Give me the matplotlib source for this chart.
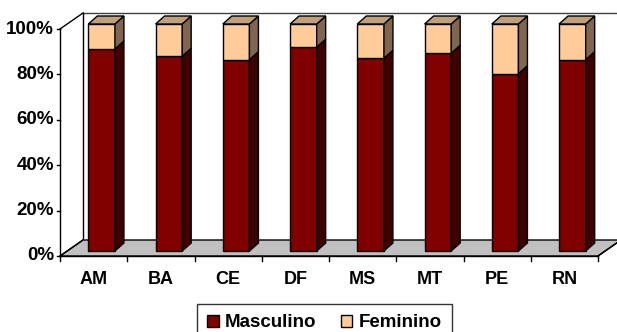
import matplotlib.pyplot as plt
from matplotlib.patches import Polygon, Patch
import numpy as np

categorias = ["AM", "BA", "CE", "DF", "MS", "MT", "PE", "RN"]
masculino = [89.0, 85.8, 84.3, 89.8, 84.9, 87.1, 78.1, 84.3]
feminino = [11.0, 14.2, 15.7, 10.2, 15.1, 12.9, 21.9, 15.7]
yticks = [0, 20, 40, 60, 80, 100]

plt.rcParams["font.family"] = ["Liberation Sans", "DejaVu Sans"]
plt.rcParams["font.weight"] = "bold"

W, H = 617, 332
fig = plt.figure(figsize=(W / 100, H / 100), dpi=100)
ax = fig.add_axes([60 / W, 76 / H, 538 / W, 227 / H])
n = len(categorias)
ax.set_xlim(-0.5, n - 0.5)
ax.set_ylim(0, 100)
ax.axis("off")

# pixel -> data helpers
px_x = n / 538.0
px_y = 100 / 227.0

# depth of the "3d" box
DX, DY = 23 * px_x, 16 * px_y
x0, x1 = -0.5, n - 0.5

# back wall
ax.add_patch(Polygon([(x0 + DX, DY), (x1 + DX, DY), (x1 + DX, 100 + DY), (x0 + DX, 100 + DY)],
                     closed=True, facecolor="white", edgecolor="none", clip_on=False, zorder=0))
ax.plot([x0 + DX, x1 + DX + 1], [100 + DY, 100 + DY], color="#404040", lw=1, clip_on=False, zorder=1)
ax.plot([x0 + DX, x0 + DX], [DY, 100 + DY], color="black", lw=1, clip_on=False, zorder=1)
# left wall top edge
ax.plot([x0, x0 + DX], [100, 100 + DY], color="black", lw=1, clip_on=False, zorder=1)

# floor
ax.add_patch(Polygon([(x0, 0), (x1, 0), (x1 + DX, DY), (x0 + DX, DY)], closed=True,
                     facecolor="#c0c0c0", edgecolor="black", lw=1, clip_on=False, zorder=1))

# bars
pos = np.arange(n)
bw = 26.6 * px_x
ox, oy = 8 * px_x, 5 * px_y
bdx, bdy = 9 * px_x, 8 * px_y
masc = np.array(masculino)
fem = np.array(feminino)

ax.bar(pos + ox, masc, width=bw, bottom=oy, color="#800000", edgecolor="black", lw=1,
       zorder=3, clip_on=False)
ax.bar(pos + ox, fem, width=bw, bottom=oy + masc, color="#ffcc99", edgecolor="black", lw=1,
       zorder=3, clip_on=False)

for i in range(n):
    xr = pos[i] + ox + bw / 2
    xl = pos[i] + ox - bw / 2
    b = oy
    m = oy + masc[i]
    t = oy + masc[i] + fem[i]
    ax.add_patch(Polygon([(xr, b), (xr + bdx, b + bdy), (xr + bdx, m + bdy), (xr, m)], closed=True,
                         facecolor="#400000", edgecolor="black", lw=1, clip_on=False, zorder=3))
    ax.add_patch(Polygon([(xr, m), (xr + bdx, m + bdy), (xr + bdx, t + bdy), (xr, t)], closed=True,
                         facecolor="#806650", edgecolor="black", lw=1, clip_on=False, zorder=3))
    ax.add_patch(Polygon([(xl, t), (xr, t), (xr + bdx, t + bdy), (xl + bdx, t + bdy)], closed=True,
                         facecolor="#c0a07a", edgecolor="black", lw=1, clip_on=False, zorder=3))

# front axes
ax.plot([x0, x0], [0, 100], color="black", lw=1, clip_on=False, zorder=4)
ax.plot([x0, x1], [0, 0], color="black", lw=1, clip_on=False, zorder=4)
ax.plot([x1, x1 + DX * 0.85], [0, DY * 0.85], color="black", lw=1, clip_on=False, zorder=4)
ax.plot([x0, x0 + DX], [0, DY], color="black", lw=1, clip_on=False, zorder=4)

for v in yticks:
    ax.plot([x0 - 3 * px_x, x0], [v, v], color="black", lw=1, clip_on=False, zorder=4)
    ax.text(x0 - 6 * px_x, v, f"{v}%", ha="right", va="center", fontsize=13.5,
            fontweight="bold")

for b in np.arange(n + 1) - 0.5:
    ax.plot([b, b], [0, -5 * px_y], color="black", lw=1, clip_on=False, zorder=4)

for i, c in enumerate(categorias):
    ax.text(pos[i], -23 * px_y, c, ha="center", va="center", fontsize=13, fontweight="bold")

handles = [Patch(facecolor="#800000", edgecolor="black", label="Masculino"),
           Patch(facecolor="#ffcc99", edgecolor="black", label="Feminino")]
leg = fig.legend(handles=handles, loc="upper left", bbox_to_anchor=(197 / W, 1 - 304 / H),
                 ncol=2, frameon=True, fancybox=False, edgecolor="black", fontsize=13.5,
                 handlelength=0.6, handleheight=0.6, handletextpad=0.35, columnspacing=1.3,
                 borderpad=0.55, borderaxespad=0)
leg.get_frame().set_linewidth(1)

fig.savefig("out.png", dpi=100)
